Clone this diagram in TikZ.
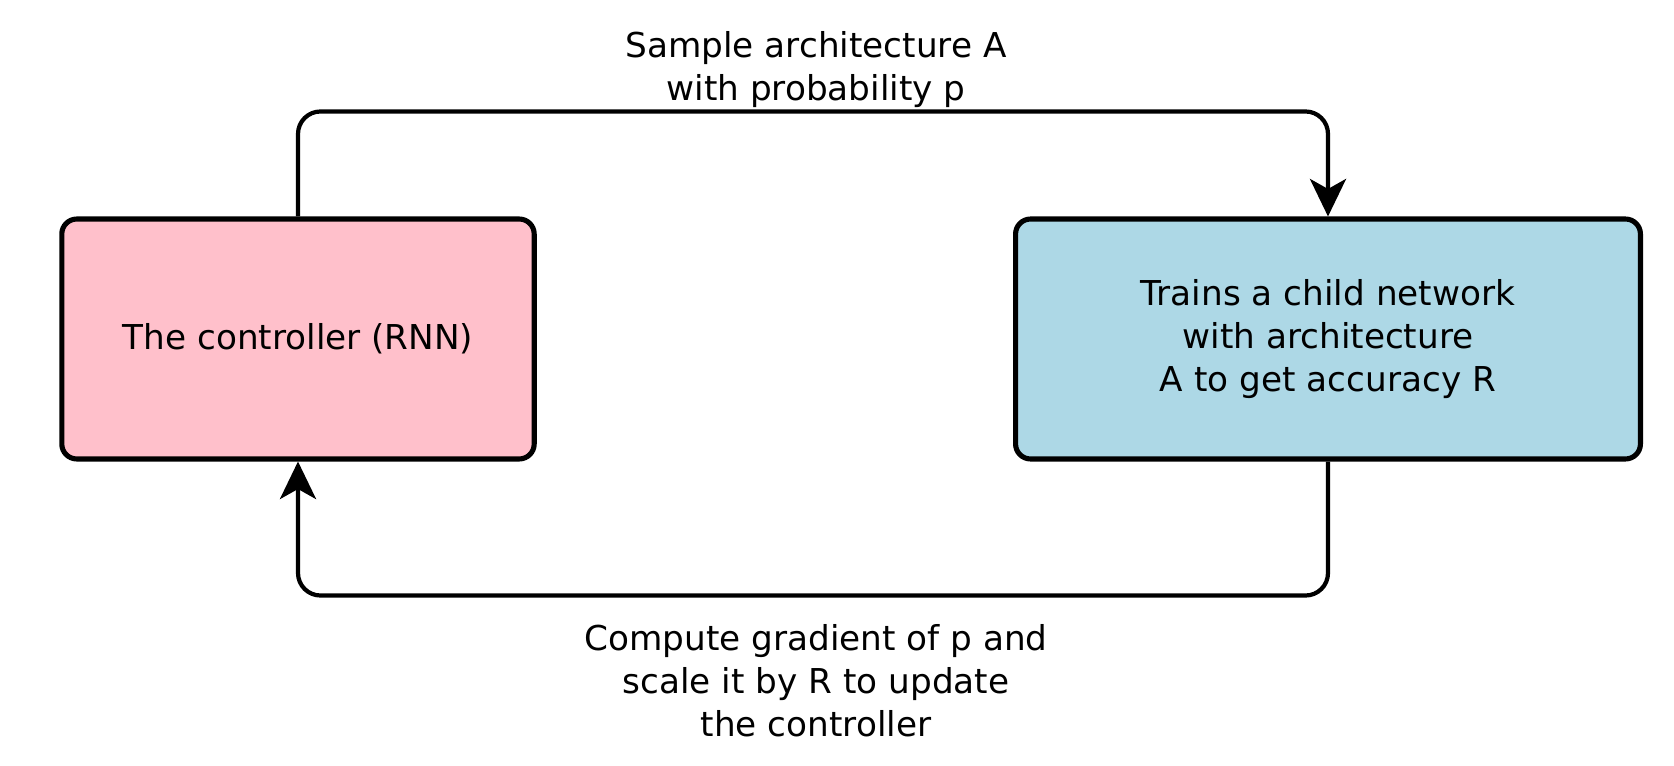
\documentclass[tikz,border=0pt]{standalone}
\usepackage{fontspec}
\setmainfont{DejaVu Sans}
\usetikzlibrary{arrows.meta}
\definecolor{ctrlpink}{RGB}{255,192,203}
\definecolor{childblue}{RGB}{173,216,230}

\begin{document}
\begin{tikzpicture}[x=0.02cm,y=-0.02cm,
  box/.style={draw, line width=2.9pt, rounded corners=0.3cm, minimum height=4.8cm, align=center, inner sep=0pt, font=\fontsize{19.5}{24.5}\selectfont},
  flow/.style={line width=2.4pt, rounded corners=0.45cm, -{Stealth[length=0.75cm,width=0.72cm,inset=0.2cm]}},
  lbl/.style={align=center, font=\fontsize{19.5}{24.5}\selectfont}]
\useasboundingbox (0,0) rectangle (1674,766);
\node [box, fill=ctrlpink, minimum width=9.45cm] (ctrl) at (298,339) {The controller (RNN)};
\node [box, fill=childblue, minimum width=12.5cm] (child) at (1328,339) {Trains a child network\\with architecture\\A to get accuracy R};
\draw [flow] (ctrl.north) -- ++(0,-105) -| (child.north);
\draw [flow] (child.south) -- ++(0,134) -| (ctrl.south);
\node [lbl] (sample) at (816,70) {Sample architecture A\\with probability p};
\node [lbl] (update) at (816,681) {Compute gradient of p and\\scale it by R to update\\the controller};
\end{tikzpicture}
\end{document}
